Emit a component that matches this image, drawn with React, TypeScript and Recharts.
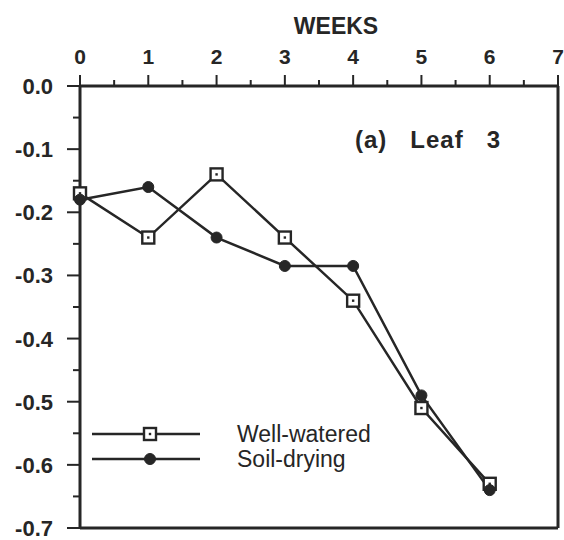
// App.tsx
// Leaf 3 water potential over weeks: well-watered vs soil-drying, drawn with Recharts
import { LineChart, Line, XAxis, YAxis, ReferenceLine, Legend } from "recharts";

const FONT = "'Liberation Sans', Arial, Helvetica, sans-serif";
const INK = "#262626";

const weeks = [0, 1, 2, 3, 4, 5, 6];
const wellWatered = [-0.17, -0.24, -0.14, -0.24, -0.34, -0.51, -0.63];
const soilDrying = [-0.18, -0.16, -0.24, -0.285, -0.285, -0.49, -0.64];

const xTicks = [0, 0.5, 1, 1.5, 2, 2.5, 3, 3.5, 4, 4.5, 5, 5.5, 6, 6.5, 7];
const yTicks = [0, -0.05, -0.1, -0.15, -0.2, -0.25, -0.3, -0.35, -0.4, -0.45, -0.5, -0.55, -0.6, -0.65, -0.7];

const seriesOrder = ["ww", "sd"];

const rows = weeks.map((w, i) => ({ week: w, ww: wellWatered[i], sd: soilDrying[i] }));

const XTick = ({ x, y, payload }: any) => {
    const v = payload.value;
    const major = Number.isInteger(v);
    return (
        <g>
            <line x1={x} x2={x} y1={y} y2={y - (major ? 11 : 6)} stroke={INK} strokeWidth={2} />
            {major && (
                <text x={x} y={y - 22} textAnchor="middle" fontSize={21} fontWeight="bold" fill={INK} fontFamily={FONT}>
                    {v}
                </text>
            )}
        </g>
    );
};

const YTick = ({ x, y, payload }: any) => {
    const v = payload.value;
    const major = Math.abs(v * 10 - Math.round(v * 10)) < 1e-6;
    return (
        <g>
            <line x1={x} x2={x - (major ? 13 : 7)} y1={y} y2={y} stroke={INK} strokeWidth={2} />
            {major && (
                <text x={x - 27} y={y + 8} textAnchor="end" fontSize={22} fontWeight="bold" fill={INK} fontFamily={FONT}>
                    {v.toFixed(1)}
                </text>
            )}
        </g>
    );
};

const SquareDot = ({ cx, cy }: any) => (
    <g>
        <rect x={cx - 6} y={cy - 6} width={12} height={12} fill="#fff" stroke={INK} strokeWidth={2.4} />
        <rect x={cx - 1.2} y={cy - 1.2} width={2.4} height={2.4} fill={INK} />
    </g>
);

const CircleDot = ({ cx, cy }: any) => <circle cx={cx} cy={cy} r={5.5} fill={INK} stroke={INK} strokeWidth={1} />;

const renderSquare = (p: any) => <SquareDot key={`s-${p.index}`} cx={p.cx} cy={p.cy} />;
const renderCircle = (p: any) => <CircleDot key={`c-${p.index}`} cx={p.cx} cy={p.cy} />;

const LegendBox = ({ payload }: any) => {
    const items = [...(payload || [])].sort(
        (a: any, b: any) => seriesOrder.indexOf(a.dataKey) - seriesOrder.indexOf(b.dataKey)
    );
    return (
        <svg width={320} height={62}>
            {items.map((entry: any, i: number) => {
                const cy = 18 + i * 25;
                return (
                    <g key={entry.value}>
                        <line x1={4} x2={112} y1={cy} y2={cy} stroke={INK} strokeWidth={2.5} />
                        {entry.dataKey === "ww" ? <SquareDot cx={62} cy={cy} /> : <CircleDot cx={62} cy={cy} />}
                        <text x={149} y={cy + 8} fontSize={23} fill={INK} fontFamily={FONT}>
                            {entry.value}
                        </text>
                    </g>
                );
            })}
        </svg>
    );
};

export default function App() {
    return (
        <div style={{ position: "absolute", left: 0, top: 0, width: 564, height: 540, background: "#fff", fontFamily: FONT }}>
            <LineChart width={564} height={540} data={rows} margin={{ top: 0, right: 6, bottom: 12, left: 0 }}>
                <XAxis
                    dataKey="week"
                    type="number"
                    orientation="top"
                    domain={[0, 7]}
                    ticks={xTicks}
                    interval={0}
                    height={86}
                    tickSize={0}
                    tickMargin={0}
                    tickLine={false}
                    tick={<XTick />}
                    axisLine={{ stroke: INK, strokeWidth: 3 }}
                />
                <YAxis
                    type="number"
                    domain={[-0.7, 0]}
                    ticks={yTicks}
                    interval={0}
                    width={80}
                    tickSize={0}
                    tickMargin={0}
                    tickLine={false}
                    tick={<YTick />}
                    axisLine={{ stroke: INK, strokeWidth: 3 }}
                />
                <ReferenceLine x={7} stroke={INK} strokeWidth={3} />
                <ReferenceLine y={-0.7} stroke={INK} strokeWidth={3} />
                <Line
                    dataKey="ww"
                    name="Well-watered"
                    stroke={INK}
                    strokeWidth={2.5}
                    dot={renderSquare}
                    activeDot={false}
                    isAnimationActive={false}
                />
                <Line
                    dataKey="sd"
                    name="Soil-drying"
                    stroke={INK}
                    strokeWidth={2.5}
                    dot={renderCircle}
                    activeDot={false}
                    isAnimationActive={false}
                />
                <Legend
                    layout="horizontal"
                    verticalAlign="middle"
                    align="center"
                    content={<LegendBox />}
                    wrapperStyle={{ position: "absolute", left: 88, top: 416, width: 320, height: 62 }}
                />
            </LineChart>
            <div
                style={{
                    position: "absolute",
                    left: 336,
                    top: 15,
                    transform: "translateX(-50%)",
                    fontSize: 23,
                    fontWeight: "bold",
                    lineHeight: 1,
                    color: INK,
                }}
            >
                WEEKS
            </div>
            <div
                style={{
                    position: "absolute",
                    left: 355,
                    top: 128,
                    fontSize: 24,
                    fontWeight: "bold",
                    lineHeight: 1,
                    letterSpacing: 1,
                    whiteSpace: "pre",
                    color: INK,
                }}
            >
                {"(a)   Leaf   3"}
            </div>
        </div>
    );
}
